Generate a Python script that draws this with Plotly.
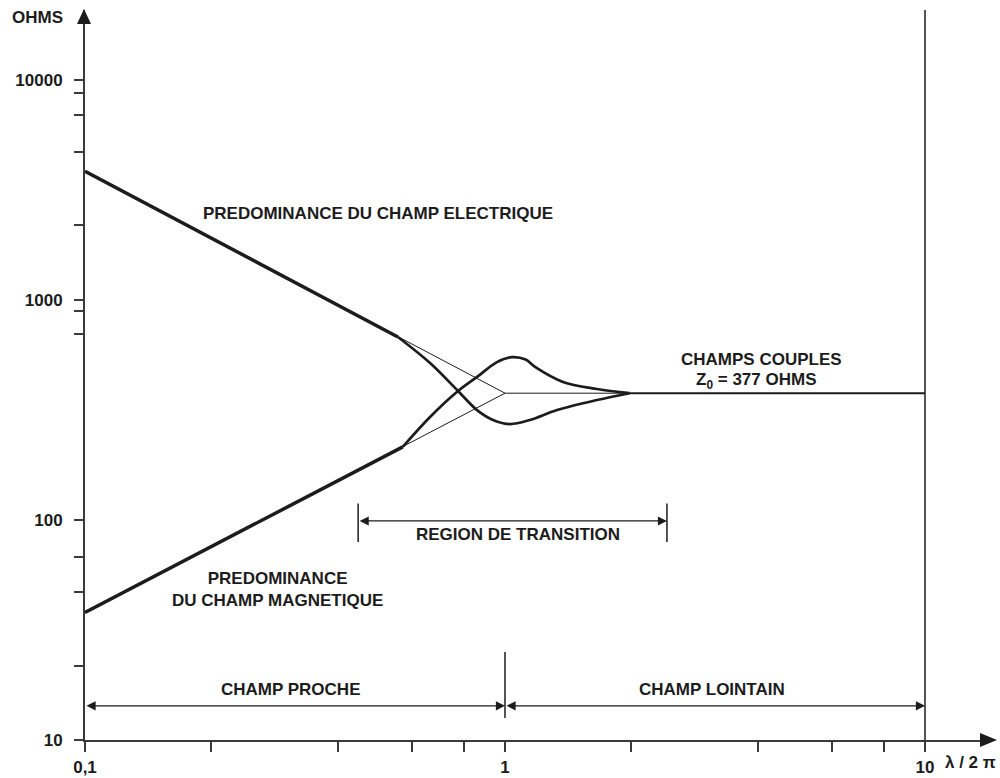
import plotly.graph_objects as go
import math

# ---------------- data ----------------
x_tick_vals = [0.1, 1, 10]
x_tick_text = ['0,1', '1', '10']
x_minor_vals = [0.2, 0.4, 0.6, 0.8, 2, 4, 6, 8]
y_tick_vals = [10, 100, 1000, 10000]
y_tick_text = ['10', '100', '1000', '10000']
y_minor_vals = [21.7, 47, 68, 700, 890, 2200, 4700, 6900, 8700]

# asymptotes (thin lines)
elec_asym_x = [0.1, 1]
elec_asym_y = [3850, 377]
mag_asym_x = [0.1, 1]
mag_asym_y = [38, 377]

# thick straight parts (near field)
elec_near_x = [0.1, 0.556]
elec_near_y = [3850, 679]
mag_near_x = [0.1, 0.571]
mag_near_y = [38, 215]

# transition curves
elec_trans_x = [0.556, 0.663, 0.773, 0.858, 0.936, 1.028, 1.147, 1.33, 1.656, 1.98]
elec_trans_y = [679, 517, 386, 316, 285, 273, 285, 316, 351, 377]
mag_trans_x = [0.571, 0.663, 0.773, 0.858, 0.957, 1.039, 1.12, 1.179, 1.374, 1.656, 1.98]
mag_trans_y = [215, 294, 386, 447, 522, 550, 536, 496, 424, 394, 377]

# free-space impedance
z0_thin_x = [1, 1.98]
z0_thick_x = [1.98, 10]
z0_value = 377

# zone markers
trans_region_x = [0.447, 2.43]
trans_region_y = 99
trans_bar_y = [79.4, 119]
zone_arrow_y = 14.3
near_x = [0.1, 1]
far_x = [1, 10]
zone_sep_y = [12.6, 25.1]
limit_x = 10
limit_y = [10, 30000]

# ---------------- layout helpers ----------------
L, T, W, H = 85, 10, 905, 730
FIG_W, FIG_H = 1000, 778


def px(x):
    return (x - L) / W


def py(y):
    return (T + H - y) / H


INK = '#1c1c1c'
AX = '#3a3a3a'
FONT = 'Liberation Sans, Arial, Helvetica, sans-serif'
FS = 17

fig = go.Figure()


def line(x, y, w, shape='linear'):
    fig.add_trace(go.Scatter(x=x, y=y, mode='lines',
                             line=dict(color=INK, width=w, shape=shape, smoothing=1.0),
                             hoverinfo='skip', showlegend=False))


line(elec_asym_x, elec_asym_y, 1)
line(mag_asym_x, mag_asym_y, 1)
line(elec_near_x, elec_near_y, 3.5)
line(mag_near_x, mag_near_y, 3.5)
line(elec_trans_x, elec_trans_y, 2.7, 'spline')
line(mag_trans_x, mag_trans_y, 2.7, 'spline')
line(z0_thin_x, [z0_value] * len(z0_thin_x), 1)
line(z0_thick_x, [z0_value] * len(z0_thick_x), 2)

# vertical markers
line([trans_region_x[0]] * 2, trans_bar_y, 1.5)
line([trans_region_x[1]] * 2, trans_bar_y, 1.5)
line([1, 1], zone_sep_y, 1.5)
line([limit_x, limit_x], limit_y, 1.5)

annotations = []


def dbl_arrow(x0, x1, y):
    annotations.append(dict(x=math.log10(x1), y=math.log10(y), ax=math.log10(x0), ay=math.log10(y),
                            xref='x', yref='y', axref='x', ayref='y', text='', showarrow=True,
                            arrowhead=2, arrowside='end+start', arrowsize=1.4, arrowwidth=1.3,
                            arrowcolor=INK, standoff=0, startstandoff=0))


dbl_arrow(trans_region_x[0], trans_region_x[1], trans_region_y)
dbl_arrow(near_x[0], near_x[1], zone_arrow_y)
dbl_arrow(far_x[0], far_x[1], zone_arrow_y)


def label(text, x, y, size=FS):
    annotations.append(dict(text=text, x=px(x), y=py(y), xref='paper', yref='paper',
                            showarrow=False, xanchor='center', yanchor='middle',
                            font=dict(family=FONT, size=size, color=INK, weight='bold')))


label('OHMS', 37, 17)
label('λ / 2 π', 970, 762)
label('PREDOMINANCE DU CHAMP ELECTRIQUE', 378, 214)
label('PREDOMINANCE<br>DU CHAMP MAGNETIQUE', 277, 589)
label('CHAMPS COUPLES', 761, 359)
label('Z<sub>0</sub> = 377 OHMS', 756, 381)
label('REGION DE TRANSITION', 518, 534)
label('CHAMP PROCHE', 290, 689)
label('CHAMP LOINTAIN', 712, 689)

shapes = [
    dict(type='path', xref='paper', yref='paper', fillcolor=INK, line=dict(width=0),
         path='M {} {} L {} {} L {} {} Z'.format(px(84), py(9), px(77), py(24), px(91), py(24))),
    dict(type='path', xref='paper', yref='paper', fillcolor=INK, line=dict(width=0),
         path='M {} {} L {} {} L {} {} Z'.format(px(997), py(740), px(980), py(733), px(980), py(747))),
]

fig.update_layout(
    template='none',
    width=FIG_W, height=FIG_H, autosize=False,
    margin=dict(l=L, r=FIG_W - L - W, t=T, b=FIG_H - T - H, autoexpand=False),
    paper_bgcolor='white', plot_bgcolor='white',
    showlegend=False,
    annotations=annotations,
    shapes=shapes,
    xaxis=dict(type='log', range=[-1, -1 + W / 420.0], showgrid=False, zeroline=False,
               automargin=False,
               showline=True, linecolor=AX, linewidth=2,
               tickmode='array', tickvals=x_tick_vals, ticktext=x_tick_text,
               ticks='outside', ticklen=10, tickwidth=2, tickcolor=AX,
               ticklabelstandoff=1,
               minor=dict(tickmode='array', tickvals=x_minor_vals, ticks='outside',
                          ticklen=10, tickwidth=2, tickcolor=AX, showgrid=False),
               tickfont=dict(family=FONT, size=FS, color=INK, weight='bold')),
    yaxis=dict(type='log', range=[1, 1 + H / 220.0], showgrid=False, zeroline=False,
               automargin=False,
               showline=True, linecolor=AX, linewidth=2,
               tickmode='array', tickvals=y_tick_vals, ticktext=y_tick_text,
               ticks='outside', ticklen=9, tickwidth=2, tickcolor=AX,
               ticklabelstandoff=8,
               minor=dict(tickmode='array', tickvals=y_minor_vals, ticks='outside',
                          ticklen=9, tickwidth=2, tickcolor=AX, showgrid=False),
               tickfont=dict(family=FONT, size=FS, color=INK, weight='bold')),
)

fig.write_html('out.html', config={'displayModeBar': False},
               post_script="document.body.style.margin='0px';document.body.style.overflow='hidden';")
